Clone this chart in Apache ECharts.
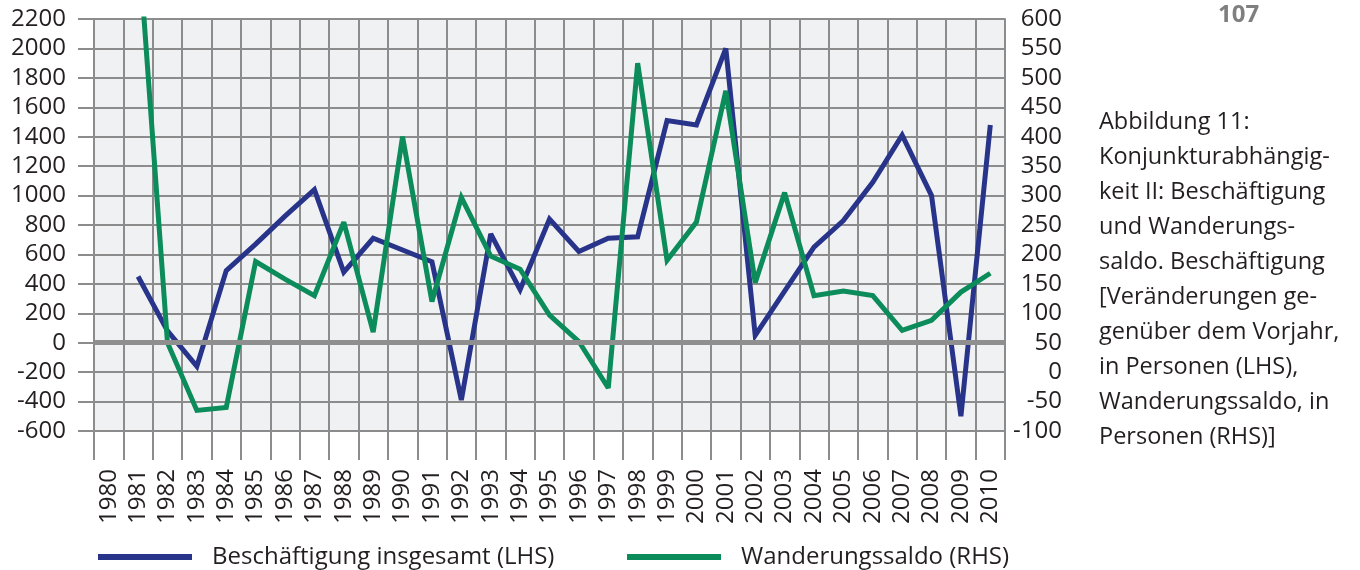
<!DOCTYPE html>
<html>
<head>
<meta charset="utf-8">
<script src="https://cdn.jsdelivr.net/npm/echarts@6/dist/echarts.min.js"></script>
<style>
  html, body { margin: 0; padding: 0; background: #fff; }
  #chart { width: 1360px; height: 570px; }
</style>
</head>
<body>
<div id="chart"></div>
<script>
// years on the category axis
var years = ['1980','1981','1982','1983','1984','1985','1986','1987','1988','1989','1990',
             '1991','1992','1993','1994','1995','1996','1997','1998','1999','2000',
             '2001','2002','2003','2004','2005','2006','2007','2008','2009','2010'];

// Beschäftigung insgesamt (LHS), no value for 1980
var beschaeftigung = [null, 450, 80, -160, 490, 670, 860, 1040, 480, 710, 630,
                      550, -390, 740, 360, 840, 620, 710, 720, 1510, 1480,
                      2000, 50, 350, 650, 830, 1090, 1410, 1000, -500, 1480];

// Wanderungssaldo (RHS), 1981 runs off the top of the axis
var wanderung = [null, 740, 50, -65, -60, 188, 158, 130, 255, 68, 400,
                 120, 297, 197, 175, 97, 52, -27, 525, 190, 255,
                 478, 152, 305, 130, 138, 130, 71, 88, 136, 168];

var captionLines = ['Abbildung 11:', 'Konjunkturabhängig-', 'keit II: Beschäftigung',
                    'und Wanderungs-', 'saldo. Beschäftigung', '[Veränderungen ge-',
                    'genüber dem Vorjahr,', 'in Personen (LHS),', 'Wanderungssaldo, in',
                    'Personen (RHS)]'];

var grey = '#8c8c8c';
var ink = '#231f20';
var font = '"Open Sans", "Noto Sans", sans-serif';

var chart_11 = function()
{
    var draw = function() {
        var myChart = echarts.init(document.getElementById('chart'));
        var plain = function (v) { return String(v); };
        var option = {
            animation: false,
            textStyle: { fontFamily: font },
            title: [
                {
                    text: captionLines.join('\n'),
                    left: 1099,
                    top: 105,
                    padding: 0,
                    textStyle: { fontFamily: font, fontSize: 23.5, fontWeight: 'normal', color: ink, lineHeight: 35 }
                },
                {
                    text: '107',
                    left: 1218,
                    top: 3,
                    padding: 0,
                    textStyle: { fontFamily: font, fontSize: 24, fontWeight: 'bold', color: '#7f7f7f' }
                }
            ],
            legend: [
                {
                    data: ['Beschäftigung insgesamt (LHS)'],
                    left: 93, top: 540,
                    icon: 'rect', itemWidth: 94, itemHeight: 6,
                    textStyle: { fontFamily: font, fontSize: 24, color: ink, padding: [0, 0, 0, 15] }
                },
                {
                    data: ['Wanderungssaldo (RHS)'],
                    left: 622, top: 540,
                    icon: 'rect', itemWidth: 94, itemHeight: 6,
                    textStyle: { fontFamily: font, fontSize: 24, color: ink, padding: [0, 0, 0, 15] }
                }
            ],
            grid: {
                left: 94, top: 19, width: 911, height: 412,
                show: true, backgroundColor: '#f0f1f3', borderWidth: 0
            },
            xAxis: {
                type: 'category',
                data: years,
                boundaryGap: true,
                axisLine: { show: true, onZero: false, lineStyle: { color: grey, width: 2 } },
                axisTick: { show: true, interval: 0, length: 29, lineStyle: { color: grey, width: 2 } },
                splitLine: { show: true, interval: 0, lineStyle: { color: grey, width: 2 } },
                axisLabel: { interval: 0, rotate: 90, margin: 38, fontSize: 24, color: ink, fontFamily: font }
            },
            yAxis: [
                {
                    type: 'value',
                    min: -600, max: 2200, interval: 200,
                    axisLine: { show: true, lineStyle: { color: grey, width: 2 } },
                    axisTick: { show: true, length: 16, lineStyle: { color: grey, width: 2 } },
                    splitLine: { show: true, lineStyle: { color: grey, width: 2 } },
                    axisLabel: { margin: 28, fontSize: 24, color: ink, fontFamily: font, formatter: plain }
                },
                {
                    type: 'value',
                    min: -100, max: 600, interval: 50,
                    axisLine: { show: true, lineStyle: { color: grey, width: 2 } },
                    axisTick: { show: false },
                    splitLine: { show: false },
                    axisLabel: { margin: 57, align: 'right', fontSize: 24, color: ink, fontFamily: font, formatter: plain }
                }
            ],
            series: [
                {
                    name: 'zero',
                    type: 'line',
                    data: [],
                    z: 1,
                    markLine: {
                        silent: true,
                        symbol: 'none',
                        label: { show: false },
                        lineStyle: { color: '#8f8f8f', width: 5, type: 'solid' },
                        data: [{ yAxis: 0 }]
                    }
                },
                {
                    name: 'Beschäftigung insgesamt (LHS)',
                    type: 'line',
                    yAxisIndex: 0,
                    data: beschaeftigung,
                    symbol: 'none',
                    itemStyle: { color: '#28348a' },
                    lineStyle: { color: '#28348a', width: 5, join: 'miter', miterLimit: 3 }
                },
                {
                    name: 'Wanderungssaldo (RHS)',
                    type: 'line',
                    yAxisIndex: 1,
                    data: wanderung,
                    symbol: 'none',
                    itemStyle: { color: '#0b8c5a' },
                    lineStyle: { color: '#0b8c5a', width: 5, join: 'miter', miterLimit: 3 }
                }
            ]
        };

        myChart.setOption(option);
    };

    return {
        init: function ()
        {
            draw();
        }
    };
}();

chart_11.init();
</script>
</body>
</html>
